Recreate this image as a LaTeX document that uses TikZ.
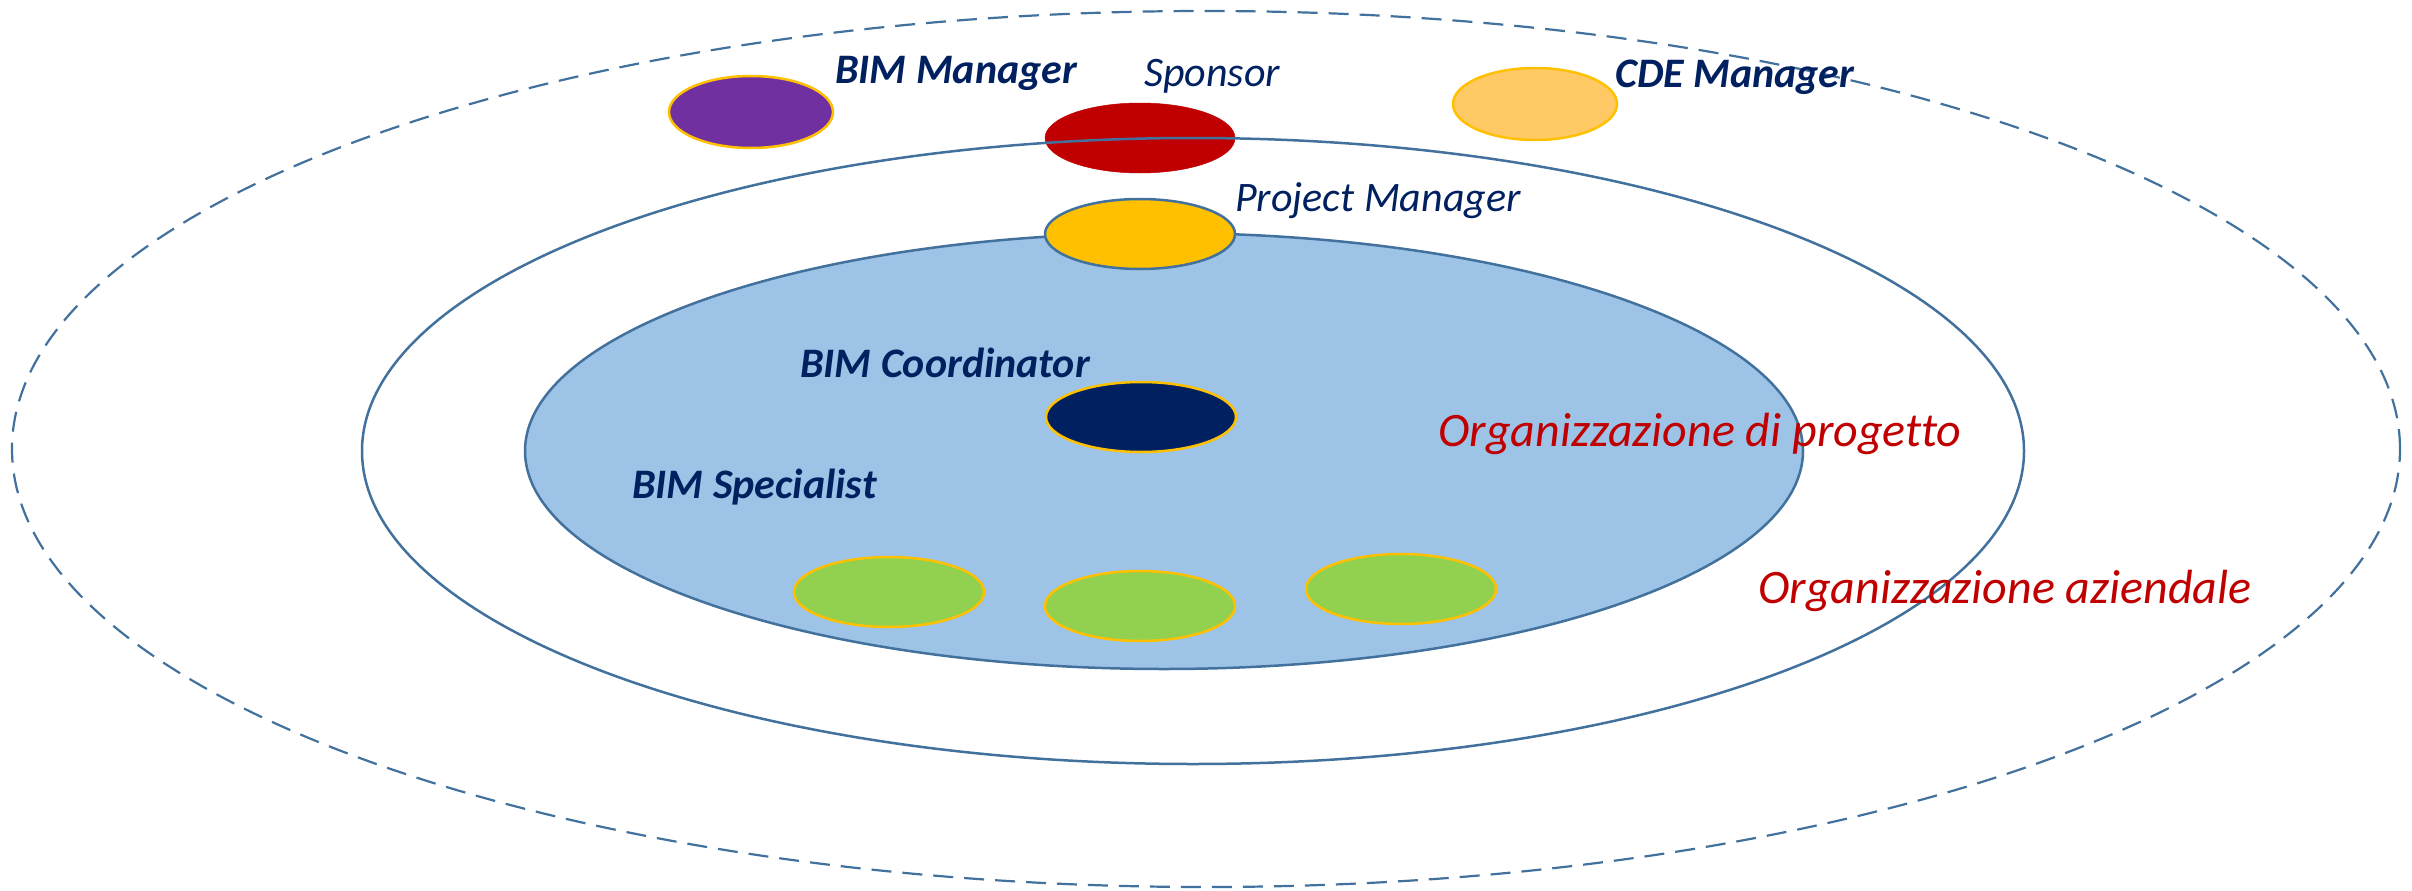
\documentclass[tikz,border=0pt]{standalone}
\usepackage{fontspec}
\setmainfont[Ligatures=NoCommon]{Carlito}
\usetikzlibrary{shapes.geometric}
\definecolor{navy}{HTML}{002060}
\definecolor{darkred}{HTML}{C00000}
\definecolor{lineblue}{HTML}{41719C}
\definecolor{innerfill}{HTML}{9DC3E6}
\definecolor{bimpurple}{HTML}{7030A0}
\definecolor{cdefill}{HTML}{FFC966}
\definecolor{gold}{HTML}{FFC000}
\definecolor{spgreen}{HTML}{92D050}
\tikzset{
  oval/.style={ellipse, inner sep=0pt, minimum width=190pt, minimum height=70pt, line width=2.5pt},
  role/.style={anchor=base west, inner sep=0pt, text=navy, font=\fontsize{42}{50}\selectfont\itshape},
  rolebold/.style={role, font=\fontsize{42}{50}\selectfont\bfseries\itshape},
  orglabel/.style={anchor=base west, inner sep=0pt, text=darkred, font=\fontsize{48}{56}\selectfont\itshape},
}
\begin{document}
\begin{tikzpicture}[x=1pt,y=-1pt]
\useasboundingbox (0,0) rectangle (2412,891);
% outer dashed ellipse
\draw[lineblue, line width=2.2pt, dash pattern=on 20pt off 11pt] (1206,449) ellipse [x radius=1194pt, y radius=438pt];
% sponsor (under the middle ellipse line)
\node[oval, fill=darkred, draw=darkred, line width=0.5pt] (sponsor) at (1140,138) {};
% middle ellipse
\draw[lineblue, line width=2.5pt] (1193,451) ellipse [x radius=831pt, y radius=313pt];
% inner ellipse
\draw[lineblue, line width=2.5pt, fill=innerfill] (1164,451) ellipse [x radius=639pt, y radius=218pt];
% role ovals
\node[oval, minimum width=164pt, minimum height=72pt, fill=bimpurple, draw=gold] (bimman) at (751,112) {};
\node[oval, minimum width=164pt, minimum height=72pt, fill=cdefill, draw=gold] (cde) at (1535,104) {};
\node[oval, fill=gold, draw=lineblue] (pm) at (1140,234) {};
\node[oval, fill=navy, draw=gold] (coord) at (1141,417) {};
\node[oval, fill=spgreen, draw=gold] (spec1) at (889,592) {};
\node[oval, fill=spgreen, draw=gold] (spec2) at (1140,606) {};
\node[oval, fill=spgreen, draw=gold] (spec3) at (1401,589) {};
% labels
\node[rolebold] (tbimman) at (835,83) {BIM Manager};
\node[role] (tsponsor) at (1144,86) {Sponsor};
\node[rolebold] (tcde) at (1615,88) {CDE Manager};
\node[role] (tpm) at (1235,211) {Project Manager};
\node[rolebold] (tcoord) at (800,377) {BIM Coordinator};
\node[rolebold] (tspec) at (632,498) {BIM Specialist};
\node[orglabel] (tprog) at (1438,446) {Organizzazione di progetto};
\node[orglabel] (tazi) at (1758,603) {Organizzazione aziendale};
\end{tikzpicture}
\end{document}
